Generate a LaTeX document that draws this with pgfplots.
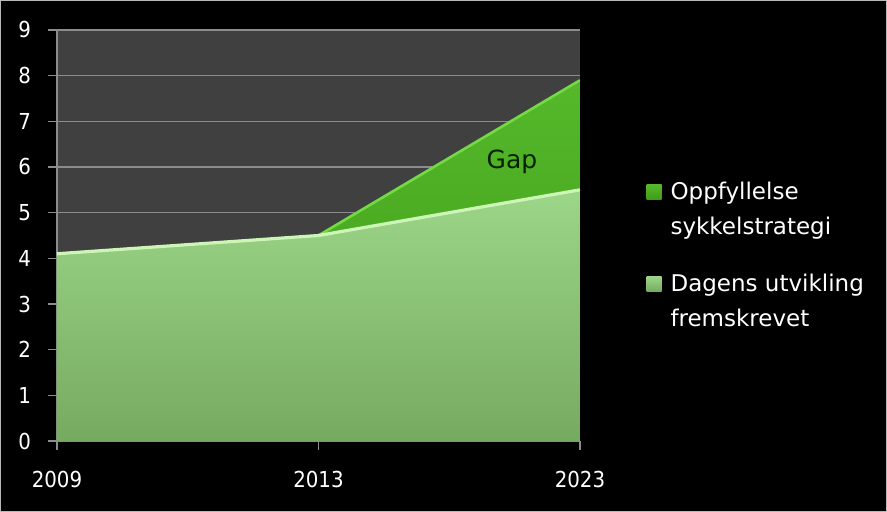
\documentclass[border=0pt]{standalone}
\usepackage{fontspec}
\setmainfont{DejaVu Sans}
\newfontfamily\condfont{DejaVu Sans Condensed}
\usepackage{pgfplots}
\pgfplotsset{compat=1.18}
\definecolor{plotbg}{HTML}{404040}
\definecolor{gridc}{HTML}{8C8C8C}
\definecolor{lgtop}{HTML}{9CD688}
\definecolor{lgbot}{HTML}{76AA60}
\definecolor{lgedge}{HTML}{CDF5B8}
\definecolor{dgtop}{HTML}{55B82A}
\definecolor{dgbot}{HTML}{3E9A18}
\definecolor{dgedge}{HTML}{74DA44}
\begin{document}
\begin{tikzpicture}
\fill[black] (0,0) rectangle (443.5pt,256pt);
\draw[gray!55, line width=0.6pt] (0.3pt,0.3pt) rectangle (443.2pt,255.7pt);
\begin{axis}[
  at={(28.5pt,35.5pt)}, anchor=south west,
  scale only axis, width=261.5pt, height=205.5pt,
  xmin=0, xmax=2, ymin=0, ymax=9,
  xtick={0,1,2}, xticklabels={2009,2013,2023},
  ytick={0,1,...,9},
  axis background/.style={fill=plotbg},
  ymajorgrids, grid style={gridc, line width=0.6pt},
  axis x line*=bottom, axis y line*=left,
  axis line style={gridc, line width=0.6pt},
  tick style={gridc, line width=0.6pt},
  tick align=outside, major tick length=4.5pt,
  /pgf/number format/assume math mode=true,
  ticklabel style={font=\condfont\fontsize{11}{13}\selectfont, text=white},
  xticklabel style={yshift=-7pt},
  yticklabel style={xshift=-5pt},
  legend style={at={(1.115,0.65)}, anchor=north west, fill=black, draw=none,
    text=white, font=\fontsize{11.5}{17.5}\selectfont,
    nodes={align=left}, row sep=14pt},
  legend cell align=left,
  legend image code/.code={\path (0pt,0pt) -- (10pt,0pt);\fill[#1] (0pt,5pt) rectangle (7.5pt,12.5pt);},
]
\addplot[draw=none, top color=dgtop, bottom color=dgbot]
  coordinates {(0,4.1) (1,4.5) (2,7.9)} \closedcycle;
\addlegendentry{Oppfyllelse\\sykkelstrategi}
\addplot[draw=none, top color=lgtop, bottom color=lgbot]
  coordinates {(0,4.1) (1,4.5) (2,5.5)} \closedcycle;
\addlegendentry{Dagens utvikling\\fremskrevet}
\addplot[forget plot, dgedge, line width=1.3pt, line join=round]
  coordinates {(1,4.5) (2,7.9)};
\addplot[forget plot, lgedge, line width=1.6pt, line join=round]
  coordinates {(0,4.1) (1,4.5) (2,5.5)};
\node[text=black!80!green!60!black, font=\fontsize{12.5}{14}\selectfont] at (axis cs:1.74,6.12) {Gap};
\end{axis}
\end{tikzpicture}
\end{document}
